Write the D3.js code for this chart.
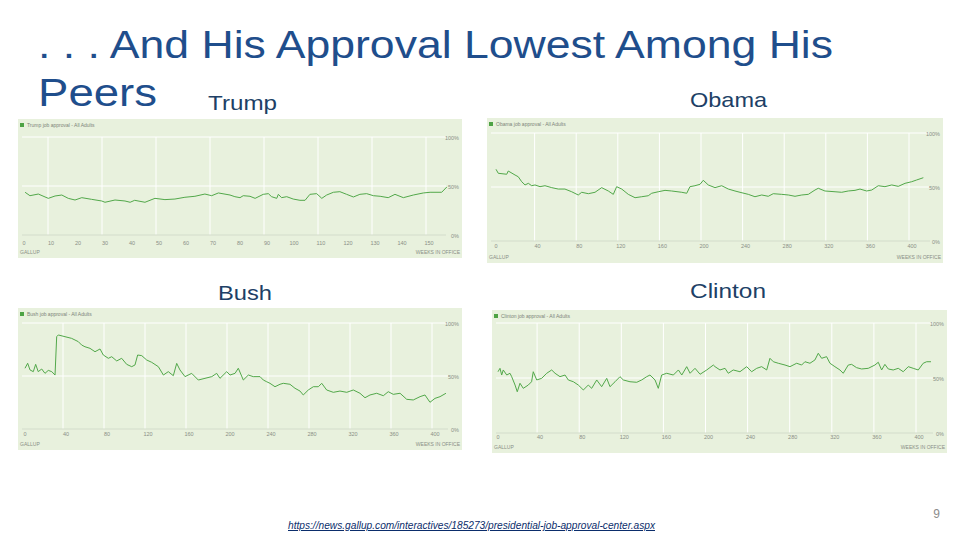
<!DOCTYPE html>
<html>
<head>
<meta charset="utf-8">
<script src="https://cdn.jsdelivr.net/npm/d3@7"></script>
<style>
  body { margin: 0; background: #fff; }
  svg { display: block; font-family: "Liberation Sans", Arial, sans-serif; }
</style>
</head>
<body>
<svg id="slide" width="960" height="540"></svg>
<script>
// weeks in office / approval %
var trumpWeeks = [0.4, 2.2, 5.3, 9, 11.5, 14, 16.4, 18.9, 21.4, 25, 28.8, 30, 33.7, 37.4, 39.3, 41, 44.8, 48.5, 52.2, 55.9, 59.6, 63.3, 67, 69.5, 72,
  76.3, 78.1, 80, 81.2, 83.7, 85.6, 88.6, 90.5, 91.7, 93.6, 94.2, 95.4, 97.3, 99.7, 102.2, 104.1, 105.9, 108.4, 110.3, 112.1, 114.6, 117, 119.5, 122, 124.4, 126.9, 129.4, 131.9, 134.9, 137.4, 140.5, 144.2, 147.9, 150.4, 154.7, 156.6];
var trumpApproval = [43.6, 40.1, 41.8, 37.4, 39.8, 40.8, 37.4, 35.7, 38.1, 36.4, 34.7, 33.4, 35.7, 34.7, 33.4, 35.4, 33.4, 37.4, 36.1, 36.7, 38.5, 39.5, 41.8, 40.1, 42.9,
  40.8, 39.1, 38.1, 40.1, 39.5, 37.4, 41.5, 42.2, 39.1, 37.4, 41.5, 38.1, 39.1, 36.7, 35.4, 35.4, 41.5, 42.2, 37.4, 40.8, 43.6, 44.2, 41.5, 38.8, 41.5, 42.2, 40.1, 39.5, 38.1, 41.5, 38.1, 40.8, 42.9, 43.6, 43.6, 49];

var obamaWeeks = [0, 2.2, 10.3, 11.8, 18.3, 21.4, 24.7, 27.9, 31.1, 34.3, 37.5, 42.3, 47.1, 53.6, 59.9, 66.3, 72.8, 79.1, 82.4, 88.8, 95.2, 101.6, 108, 112.8, 116, 120.9, 127.2, 133.7, 140.1, 146.4, 149.7, 156, 162.5, 168.9, 178.6, 183.4, 186.5, 191.3, 196.2, 199.3, 204.1, 210.6,
  217, 223.4, 229.8, 234.6, 242.6, 249, 255.5, 261.8, 266.6, 274.7, 281.1, 287.5, 294, 300.3, 306.7, 309.9, 316.3, 326, 332.4, 338.7, 345.2, 350, 356.4, 361.3, 367.6, 374, 380.5, 386.8, 393.3, 399.7, 404.5, 410.9];
var obamaApproval = [66.4, 62.7, 61.8, 64.8, 61.1, 59.5, 54.9, 51.9, 53.4, 51.2, 51.9, 50.3, 51.2, 49.4, 48.1, 48.1, 45.6, 42.6, 45.1, 43.8, 45.1, 49.4, 46.3, 43.2, 50.3, 48.1, 43.2, 40.1, 41, 41.9, 44.2, 45.6, 46.9, 46.3, 45.1, 44.2, 50.3, 51.2, 52.5, 56.2, 51.9, 49.4,
  51.2, 48.1, 46.3, 45.1, 43.2, 41, 42.6, 41.4, 43.8, 43.2, 42.6, 41.4, 42.6, 43.2, 47.2, 48.8, 46.3, 45.6, 45.1, 46.3, 46.9, 48.1, 46.3, 47.2, 51.2, 50.3, 51.9, 50.6, 53.4, 54.9, 56.5, 58.6];

var bushWeeks = [0, 2.6, 4.9, 8.1, 10.4, 12.9, 16.3, 19.5, 22.7, 26.1, 29.3, 30.9, 32.5, 39, 45.5, 52, 55.3, 58.5, 63.4, 68.3, 73.2, 76.4, 81.3, 84.6, 89.5, 94.3, 99.2, 104.1, 107.3, 109.9, 113.9, 118.7, 123.6, 130.1, 135, 139.8, 144.7, 148, 151.2, 156.1, 162.6, 169.1, 175.6, 182.2, 187, 190.2, 196.8,
  200, 204.9, 208.1, 213, 217.9, 222.7, 229.3, 232.5, 235.8, 239, 243.9, 248.8, 252, 258.5, 263.4, 268.3, 271.5, 276.4, 281.3, 286.2, 289.5, 294.3, 300.8, 307.3, 313.9, 320.3, 326.8, 331.7, 336.6, 343.1, 349.6, 354.4, 359.3, 365.9, 372.4, 378.8, 385.4, 390.2, 395.1, 400, 404.9, 410.7];
var bushApproval = [57.3, 62, 55.7, 54.1, 61, 54.1, 56.6, 52.5, 55.3, 54.1, 50.9, 87.1, 88.7, 87.1, 85.5, 82.4, 79.2, 77.6, 76.1, 72.9, 75.5, 69.8, 66.7, 68.2, 64.2, 66.7, 61, 58.8, 60.4, 69.8, 69.2, 65.1, 62.9, 58.8, 50.9, 54.1, 50.3, 61.9, 55.7, 49.4, 52.5, 46.2, 47.8, 49.4, 52.5, 47.8, 54.1,
  50.9, 52.5, 57.3, 46.2, 50.9, 49.4, 49.4, 46.2, 44.6, 43.1, 39.9, 42.2, 43.1, 42.2, 38.4, 35.8, 32.1, 36.8, 39.9, 39.9, 43.1, 36.8, 34.6, 35.8, 34.6, 36.8, 33.7, 29.5, 32.1, 33.7, 31.4, 35.2, 32.7, 33.7, 28, 27.4, 30.5, 32.1, 25.2, 28.9, 30.5, 33.7];

var clintonWeeks = [0, 1.9, 3.5, 5, 8.3, 11.4, 13, 16.2, 18.3, 20.9, 24, 28.8, 31.9, 33.5, 36.8, 41.5, 46.3, 51, 54.2, 58.9, 63.7, 66.8, 71.6, 76.3, 81.1, 85.8, 89, 93.8, 98.5, 103.3, 106.4, 111.2, 115.9, 119.1, 125.4, 131.8, 136.5, 141.3, 144.4, 149.2, 152.3, 155.5, 160.3, 166.6, 171.4, 174.6, 179.3, 182.5, 187.2, 192, 198.3, 204.6,
  206.2, 210.9, 215.7, 218.8, 223.5, 229.9, 236.3, 241, 245.8, 250.5, 255.3, 258.4, 261.6, 266.3, 272.7, 277.4, 283.8, 288.5, 291.6, 296.4, 301.1, 304.3, 307.5, 312.2, 315.4, 320.1, 324.9, 328, 332.8, 336, 340.7, 345.5, 351.8, 358.1, 361.3, 364.5, 367.6, 370.8, 375.5, 380.3, 385, 389.8, 394.5, 399.3, 404, 407.3, 411.4];
var clintonApproval = [55.7, 58.8, 52.7, 57.3, 52.7, 54.3, 51.2, 43.6, 37.5, 45.2, 40.6, 43.6, 46.6, 55.7, 48.2, 49.7, 54.3, 57.3, 54.3, 51.2, 52.7, 48.2, 46.6, 43.6, 39.1, 43.6, 40.6, 48.2, 42.1, 49.7, 42.1, 46.6, 51.2, 48.2, 46.6, 46.1, 48.2, 51.2, 52.7, 48.2, 40.6, 52.7, 54.3, 52.7, 57.3, 52.7, 60.3, 54.3, 58.8, 53.4, 57.3, 61.8,
  60.3, 57.3, 58.8, 54.3, 57.3, 55.7, 60.3, 55.7, 58.8, 60.3, 57.3, 67.9, 64.8, 63.4, 61.8, 60.3, 63.4, 61.8, 64.8, 63.4, 66.4, 72.5, 67.9, 69.4, 63.4, 60.3, 57.3, 54.3, 61.8, 62.4, 59.4, 58.2, 58.8, 61.8, 64.3, 57.3, 62.4, 58.2, 57.3, 58.8, 55.7, 60.3, 58.8, 57.3, 63.4, 64.8, 64.8];

var trumpTicks = [0, 10, 20, 30, 40, 50, 60, 70, 80, 90, 100, 110, 120, 130, 140, 150];
var trumpGrid = [10, 30, 50, 70, 90, 110, 130, 150];
var longTicks = [0, 40, 80, 120, 160, 200, 240, 280, 320, 360, 400];
var pctTicks = [0, 50, 100];

var svg = d3.select("#slide");

// slide text (the slide is stretched sideways, hence textLength)
svg.append("text").attr("x", 38).attr("y", 58)
  .attr("font-size", 38).attr("fill", "#1f4e8c")
  .attr("textLength", 795).attr("lengthAdjust", "spacingAndGlyphs")
  .text(". . . And His Approval Lowest Among His");
svg.append("text").attr("x", 38).attr("y", 106)
  .attr("font-size", 38).attr("fill", "#1f4e8c")
  .attr("textLength", 119).attr("lengthAdjust", "spacingAndGlyphs")
  .text("Peers");

var names = [
  {t: "Trump", x: 208, y: 110, w: 69},
  {t: "Obama", x: 690, y: 107, w: 77},
  {t: "Bush", x: 218, y: 300, w: 54},
  {t: "Clinton", x: 690, y: 298, w: 76}
];
names.forEach(function(d) {
  svg.append("text").attr("x", d.x).attr("y", d.y)
    .attr("font-size", 21).attr("fill", "#203f66")
    .attr("textLength", d.w).attr("lengthAdjust", "spacingAndGlyphs")
    .text(d.t);
});

// one Gallup chart
function drawPanel(p) {
  var g = svg.append("g");
  g.append("rect").attr("x", p.bx).attr("y", p.by).attr("width", p.bw).attr("height", p.bh)
    .attr("fill", "#e8f1dd");

  var x = d3.scaleLinear().domain([0, p.maxWeek]).range([p.x0, p.x0 + p.maxWeek * p.k]);
  var y = d3.scaleLinear().domain([0, 100]).range([p.y0, p.y100]);

  // vertical grid
  g.selectAll(".vg").data(p.grid)
    .enter().append("line")
    .attr("x1", function(d) { return x(d) - 3; }).attr("x2", function(d) { return x(d) - 3; })
    .attr("y1", y(100)).attr("y2", y(0))
    .attr("stroke", "#ffffff").attr("stroke-width", 1);

  // horizontal grid
  g.selectAll(".hg").data(pctTicks).enter().append("line")
    .attr("x1", p.bx + 4).attr("x2", p.gridEnd)
    .attr("y1", function(d) { return y(d); }).attr("y2", function(d) { return y(d); })
    .attr("stroke", function(d) { return d == 0 ? "#d3dccb" : "#ffffff"; })
    .attr("stroke-width", 1);

  // x tick labels
  g.selectAll(".xl").data(p.ticks).enter().append("text")
    .attr("x", function(d) { return x(d); }).attr("y", y(0) + p.tickDy)
    .attr("text-anchor", "middle").attr("font-size", 5.5).attr("fill", "#8a8f86")
    .text(function(d) { return d; });

  // y labels on the right
  g.selectAll(".yl").data(pctTicks).enter().append("text")
    .attr("x", p.bx + p.bw - 3).attr("y", function(d) { return y(d) + 3; })
    .attr("text-anchor", "end").attr("font-size", 5.5).attr("fill", "#8a8f86")
    .text(function(d) { return d + "%"; });

  // title with legend swatch
  g.append("rect").attr("x", p.bx + 2).attr("y", p.by + 4).attr("width", 4).attr("height", 4)
    .attr("fill", "#4ea345");
  g.append("text").attr("x", p.bx + 9).attr("y", p.by + 8)
    .attr("font-size", 5).attr("fill", "#7d8479").text(p.title);

  g.append("text").attr("x", p.bx + 2).attr("y", p.by + p.bh - 4)
    .attr("font-size", 5).attr("fill", "#8a8f86").text("GALLUP");
  g.append("text").attr("x", p.bx + p.bw - 2).attr("y", p.by + p.bh - 4)
    .attr("text-anchor", "end").attr("font-size", 5).attr("fill", "#8a8f86").text("WEEKS IN OFFICE");

  var line = d3.line()
    .x(function(d, i) { return x(p.weeks[i]); })
    .y(function(d) { return y(d); });
  g.append("path").datum(p.values)
    .attr("d", line)
    .attr("fill", "none").attr("stroke", "#52a84a").attr("stroke-width", 1);
}

drawPanel({title: "Trump job approval - All Adults", weeks: trumpWeeks, values: trumpApproval, ticks: trumpTicks, grid: trumpGrid,
  bx: 18, by: 119, bw: 444, bh: 139, x0: 24, k: 2.7, maxWeek: 157, y0: 235, y100: 137, gridEnd: 446, tickDy: 10});
drawPanel({title: "Obama job approval - All Adults", weeks: obamaWeeks, values: obamaApproval, ticks: longTicks, grid: longTicks.slice(1),
  bx: 487, by: 118, bw: 456, bh: 145, x0: 496, k: 1.04, maxWeek: 412, y0: 241, y100: 133, gridEnd: 930, tickDy: 7});
drawPanel({title: "Bush job approval - All Adults", weeks: bushWeeks, values: bushApproval, ticks: longTicks, grid: longTicks.slice(1),
  bx: 18, by: 308, bw: 444, bh: 142, x0: 25, k: 1.025, maxWeek: 411, y0: 429, y100: 323, gridEnd: 448, tickDy: 7});
drawPanel({title: "Clinton job approval - All Adults", weeks: clintonWeeks, values: clintonApproval, ticks: longTicks, grid: longTicks.slice(1),
  bx: 492, by: 310, bw: 455, bh: 143, x0: 498, k: 1.0525, maxWeek: 412, y0: 433, y100: 323, gridEnd: 933, tickDy: 6});

// source link and page number
svg.append("text").attr("x", 288).attr("y", 529)
  .attr("font-size", 10).attr("fill", "#0b2d6b").attr("font-style", "italic")
  .attr("text-decoration", "underline")
  .attr("textLength", 367).attr("lengthAdjust", "spacingAndGlyphs")
  .text("https://news.gallup.com/interactives/185273/presidential-job-approval-center.aspx");
svg.append("text").attr("x", 940).attr("y", 518)
  .attr("text-anchor", "end").attr("font-size", 12).attr("fill", "#8c8c8c").text("9");
</script>
</body>
</html>
